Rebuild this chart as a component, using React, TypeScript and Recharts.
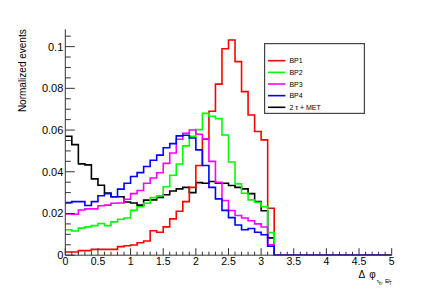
import React from 'react';
import { LineChart, Line, XAxis, YAxis, Legend } from 'recharts';

// Lower bin edges (bin width 0.1) and the upper edge of the last bin
const binEdges = [
  0, 0.1, 0.2, 0.3, 0.4, 0.5, 0.6, 0.7, 0.8, 0.9,
  1.0, 1.1, 1.2, 1.3, 1.4, 1.5, 1.6, 1.7, 1.8, 1.9,
  2.0, 2.1, 2.2, 2.3, 2.4, 2.5, 2.6, 2.7, 2.8, 2.9,
  3.0, 3.1, 3.2, 3.3, 3.4, 3.5, 3.6, 3.7, 3.8, 3.9,
  4.0, 4.1, 4.2, 4.3, 4.4, 4.5, 4.6, 4.7, 4.8, 4.9,
];
const lastEdge = 5;

const bp1 = [
  0.0015, 0.0015, 0.0022, 0.0022, 0.0028, 0.0028, 0.0028, 0.0028, 0.0041, 0.0045,
  0.0049, 0.006, 0.0068, 0.0117, 0.011, 0.0136, 0.0174, 0.0211, 0.0257, 0.0325,
  0.043, 0.0556, 0.069, 0.082, 0.099, 0.1032, 0.0928, 0.0784, 0.0672, 0.0593,
  0.0553, 0.0225, 0, 0, 0, 0, 0, 0, 0, 0,
  0, 0, 0, 0, 0, 0, 0, 0, 0, 0,
];
const bp2 = [
  0.0122, 0.0116, 0.013, 0.0136, 0.0142, 0.0152, 0.0142, 0.016, 0.0172, 0.0178,
  0.0215, 0.0232, 0.0249, 0.0276, 0.0285, 0.0328, 0.0383, 0.0437, 0.0524, 0.057,
  0.0602, 0.068, 0.0666, 0.0655, 0.0576, 0.0447, 0.0342, 0.0297, 0.0265, 0.0254,
  0.0233, 0.0108, 0, 0, 0, 0, 0, 0, 0, 0,
  0, 0, 0, 0, 0, 0, 0, 0, 0, 0,
];
const bp3 = [
  0.0198, 0.0196, 0.0217, 0.0222, 0.0222, 0.0237, 0.024, 0.0249, 0.025, 0.0268,
  0.0295, 0.031, 0.0345, 0.037, 0.0395, 0.044, 0.049, 0.0556, 0.0585, 0.06,
  0.058, 0.0558, 0.045, 0.035, 0.0262, 0.0214, 0.019, 0.0178, 0.0165, 0.015,
  0.0135, 0.005, 0, 0, 0, 0, 0, 0, 0, 0,
  0, 0, 0, 0, 0, 0, 0, 0, 0, 0,
];
const bp4 = [
  0.0252, 0.0257, 0.0257, 0.0238, 0.0257, 0.0285, 0.0295, 0.028, 0.0317, 0.0345,
  0.0377, 0.0396, 0.0425, 0.0455, 0.048, 0.0515, 0.0535, 0.0572, 0.0575, 0.0562,
  0.0505, 0.043, 0.0325, 0.027, 0.0215, 0.018, 0.0145, 0.0122, 0.0128, 0.011,
  0.0098, 0.0043, 0, 0, 0, 0, 0, 0, 0, 0,
  0, 0, 0, 0, 0, 0, 0, 0, 0, 0,
];
const tauMet = [
  0.057, 0.053, 0.0438, 0.0433, 0.0366, 0.0335, 0.0298, 0.028, 0.028, 0.0255,
  0.025, 0.024, 0.0264, 0.0265, 0.0277, 0.029, 0.0308, 0.0318, 0.0325, 0.03,
  0.0348, 0.0345, 0.0353, 0.0345, 0.0345, 0.0334, 0.0325, 0.0318, 0.0295, 0.0257,
  0.0213, 0.0083, 0, 0, 0, 0, 0, 0, 0, 0,
  0, 0, 0, 0, 0, 0, 0, 0, 0, 0,
];

const seriesKeys = ['bp1', 'bp2', 'bp3', 'bp4', 'tauMet'];
const seriesNames = ['BP1', 'BP2', 'BP3', 'BP4', '2 τ + MET'];
const seriesColors = ['#ff0000', '#00ff00', '#ff00ff', '#0000ff', '#000000'];
const seriesValues = [bp1, bp2, bp3, bp4, tauMet];
// drawing order (first drawn = bottom)
const drawOrder = [4, 0, 1, 2, 3];

const xTicks = [...binEdges, lastEdge];
const xMajorTicks = [0, 0.5, 1, 1.5, 2, 2.5, 3, 3.5, 4, 4.5, 5];
const xTickLabels = ['0', '0.5', '1', '1.5', '2', '2.5', '3', '3.5', '4', '4.5', '5'];
const yTicks = [
  0, 0.005, 0.01, 0.015, 0.02, 0.025, 0.03, 0.035, 0.04, 0.045, 0.05,
  0.055, 0.06, 0.065, 0.07, 0.075, 0.08, 0.085, 0.09, 0.095, 0.1, 0.105,
];
const yMajorTicks = [0, 0.02, 0.04, 0.06, 0.08, 0.1];
const yTickLabels = ['0', '0.02', '0.04', '0.06', '0.08', '0.1'];
const yMax = 0.1083;

const W = 420;
const H = 284;
const FONT = "'Liberation Sans', Arial, Helvetica, sans-serif";
const FRAME = '#333';

const data = binEdges.map((x, i) => {
  const row: Record<string, number> = { x };
  seriesKeys.forEach((k, s) => { row[k] = seriesValues[s][i]; });
  return row;
});
{
  const row: Record<string, number> = { x: lastEdge };
  seriesKeys.forEach((k, s) => { row[k] = seriesValues[s][seriesValues[s].length - 1]; });
  data.push(row);
}

const findIdx = (arr: number[], v: number) => arr.findIndex((a) => Math.abs(a - v) < 1e-7);

const BottomTick = (props: any) => {
  const { x, y, payload } = props;
  const idx = findIdx(xMajorTicks, payload.value);
  const len = idx >= 0 ? 7 : 3.5;
  return (
    <g>
      <line x1={x} x2={x} y1={y} y2={y - len} stroke={FRAME} strokeWidth={1} />
      {idx >= 0 && (
        <text x={x} y={y + 9.3} textAnchor="middle" fontSize={10.5} fontFamily={FONT} fill="#000">
          {xTickLabels[idx]}
        </text>
      )}
    </g>
  );
};

const TopTick = (props: any) => {
  const { x, y, payload } = props;
  const idx = findIdx(xMajorTicks, payload.value);
  const len = idx >= 0 ? 7 : 3.5;
  return <line x1={x} x2={x} y1={y} y2={y + len} stroke={FRAME} strokeWidth={1} />;
};

const LeftTick = (props: any) => {
  const { x, y, payload } = props;
  const idx = findIdx(yMajorTicks, payload.value);
  const len = idx >= 0 ? 9.5 : 5.5;
  return (
    <g>
      <line x1={x} x2={x + len} y1={y} y2={y} stroke={FRAME} strokeWidth={1} />
      {idx >= 0 && (
        <text x={x - 2} y={y + 4} textAnchor="end" fontSize={11} fontFamily={FONT} fill="#000">
          {yTickLabels[idx]}
        </text>
      )}
    </g>
  );
};

const RightTick = (props: any) => {
  const { x, y, payload } = props;
  const idx = findIdx(yMajorTicks, payload.value);
  const len = idx >= 0 ? 9.5 : 5.5;
  return <line x1={x} x2={x - len} y1={y} y2={y} stroke={FRAME} strokeWidth={1} />;
};

const XTitle = (props: any) => {
  const vb = props.viewBox || {};
  const right = (vb.x ?? 57.3) + (vb.width ?? 326.4);
  const base = (vb.y ?? 247.2) + 23.1;
  return (
    <text x={right} y={base} textAnchor="end" fontFamily={FONT} fill="#000" fontSize={10}>
      <tspan>Δ</tspan>
      <tspan dx={4}>φ</tspan>
      <tspan dx={1} dy={5} fontSize={6}>τ</tspan>
      <tspan dy={1.5} fontSize={4.5}>h</tspan>
      <tspan dy={-1.5} fontSize={6}>, E̸</tspan>
      <tspan dy={1.5} fontSize={4.5}>T</tspan>
    </text>
  );
};

const YTitle = (props: any) => {
  const vb = props.viewBox || {};
  const top = vb.y ?? 21.3;
  const bx = 18.5;
  return (
    <text
      x={bx}
      y={top}
      textAnchor="end"
      transform={`rotate(-90 ${bx} ${top})`}
      fontFamily={FONT}
      fontSize={10}
      fill="#000"
    >
      Normalized events
    </text>
  );
};

const LegendBox = () => (
  <svg width={101} height={71} style={{ display: 'block' }}>
    <rect x={0.6} y={0.6} width={99.8} height={69.8} fill="#fff" stroke="#444" strokeWidth={1.2} />
    {seriesNames.map((n, i) => {
      const ry = 17.7 + i * 11.65;
      return (
        <g key={n}>
          <line x1={4} x2={21.4} y1={ry} y2={ry} stroke={seriesColors[i]} strokeWidth={1.6} />
          <text x={25.4} y={ry + 2.5} fontSize={7} fontFamily={FONT} fill="#000">
            {n}
          </text>
        </g>
      );
    })}
  </svg>
);

export default function App() {
  return (
    <LineChart width={W} height={H} data={data} margin={{ top: 21.3, right: 36.3, bottom: 0, left: 0 }}>
      <XAxis
        xAxisId="bottom"
        dataKey="x"
        type="number"
        domain={[0, lastEdge]}
        allowDataOverflow
        ticks={xTicks}
        interval={0}
        height={36.8}
        tickSize={0}
        tickMargin={0}
        tickLine={false}
        tick={BottomTick}
        axisLine={{ stroke: FRAME, strokeWidth: 1 }}
        label={<XTitle />}
      />
      <XAxis
        xAxisId="top"
        orientation="top"
        dataKey="x"
        type="number"
        domain={[0, lastEdge]}
        allowDataOverflow
        ticks={xTicks}
        interval={0}
        height={0}
        tickSize={0}
        tickMargin={0}
        tickLine={false}
        tick={TopTick}
        axisLine={{ stroke: FRAME, strokeWidth: 1 }}
      />
      <YAxis
        yAxisId="left"
        type="number"
        domain={[0, yMax]}
        allowDataOverflow
        ticks={yTicks}
        interval={0}
        width={57.3}
        tickSize={0}
        tickMargin={0}
        tickLine={false}
        tick={LeftTick}
        axisLine={{ stroke: FRAME, strokeWidth: 1 }}
        label={<YTitle />}
      />
      <YAxis
        yAxisId="right"
        orientation="right"
        type="number"
        domain={[0, yMax]}
        allowDataOverflow
        ticks={yTicks}
        interval={0}
        width={0}
        tickSize={0}
        tickMargin={0}
        tickLine={false}
        tick={RightTick}
        axisLine={{ stroke: FRAME, strokeWidth: 1 }}
      />
      {drawOrder.map((s) => (
        <Line
          key={seriesKeys[s]}
          xAxisId="bottom"
          yAxisId="left"
          type="stepAfter"
          dataKey={seriesKeys[s]}
          name={seriesNames[s]}
          stroke={seriesColors[s]}
          strokeWidth={1.6}
          dot={false}
          activeDot={false}
          isAnimationActive={false}
        />
      ))}
      <Legend
        layout="horizontal"
        verticalAlign="middle"
        align="center"
        content={() => <LegendBox />}
        wrapperStyle={{ position: 'absolute', left: 256.3, top: 35, width: 101, height: 71 }}
      />
    </LineChart>
  );
}
